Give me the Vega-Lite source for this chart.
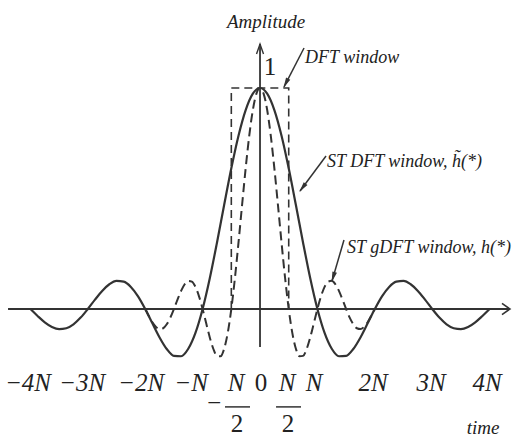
{
  "$schema": "https://vega.github.io/schema/vega-lite/v6.json",
  "width": 526,
  "height": 440,
  "autosize": {"type": "none"},
  "padding": 0,
  "background": "white",
  "config": {"view": {"stroke": null}},
  "datasets": {
    "sinc": [
      {"x": -4, "y": 0}, {"x": -3.875, "y": -0.0314}, {"x": -3.75, "y": -0.06}, {"x": -3.625, "y": -0.0811},
      {"x": -3.5, "y": -0.091}, {"x": -3.375, "y": -0.0871}, {"x": -3.25, "y": -0.0693}, {"x": -3.125, "y": -0.039},
      {"x": -3, "y": 0}, {"x": -2.875, "y": 0.0424}, {"x": -2.75, "y": 0.0819}, {"x": -2.625, "y": 0.112},
      {"x": -2.5, "y": 0.1273}, {"x": -2.375, "y": 0.1238}, {"x": -2.25, "y": 0.1}, {"x": -2.125, "y": 0.0573},
      {"x": -2, "y": 0}, {"x": -1.875, "y": -0.065}, {"x": -1.75, "y": -0.1286}, {"x": -1.625, "y": -0.181},
      {"x": -1.5, "y": -0.2122}, {"x": -1.375, "y": -0.2139}, {"x": -1.25, "y": -0.1801}, {"x": -1.125, "y": -0.1083},
      {"x": -1, "y": 0}, {"x": -0.875, "y": 0.1392}, {"x": -0.75, "y": 0.3001}, {"x": -0.625, "y": 0.4705},
      {"x": -0.5, "y": 0.6366}, {"x": -0.375, "y": 0.7842}, {"x": -0.25, "y": 0.9003}, {"x": -0.125, "y": 0.9745},
      {"x": 0, "y": 1},
      {"x": 0.125, "y": 0.9745}, {"x": 0.25, "y": 0.9003}, {"x": 0.375, "y": 0.7842}, {"x": 0.5, "y": 0.6366},
      {"x": 0.625, "y": 0.4705}, {"x": 0.75, "y": 0.3001}, {"x": 0.875, "y": 0.1392}, {"x": 1, "y": 0},
      {"x": 1.125, "y": -0.1083}, {"x": 1.25, "y": -0.1801}, {"x": 1.375, "y": -0.2139}, {"x": 1.5, "y": -0.2122},
      {"x": 1.625, "y": -0.181}, {"x": 1.75, "y": -0.1286}, {"x": 1.875, "y": -0.065}, {"x": 2, "y": 0},
      {"x": 2.125, "y": 0.0573}, {"x": 2.25, "y": 0.1}, {"x": 2.375, "y": 0.1238}, {"x": 2.5, "y": 0.1273},
      {"x": 2.625, "y": 0.112}, {"x": 2.75, "y": 0.0819}, {"x": 2.875, "y": 0.0424}, {"x": 3, "y": 0},
      {"x": 3.125, "y": -0.039}, {"x": 3.25, "y": -0.0693}, {"x": 3.375, "y": -0.0871}, {"x": 3.5, "y": -0.091},
      {"x": 3.625, "y": -0.0811}, {"x": 3.75, "y": -0.06}, {"x": 3.875, "y": -0.0314}, {"x": 4, "y": 0}
    ],
    "gsinc": [
      {"x": -2, "y": 0}, {"x": -1.9375, "y": -0.0314}, {"x": -1.875, "y": -0.06}, {"x": -1.8125, "y": -0.0811},
      {"x": -1.75, "y": -0.091}, {"x": -1.6875, "y": -0.0871}, {"x": -1.625, "y": -0.0693}, {"x": -1.5625, "y": -0.039},
      {"x": -1.5, "y": 0}, {"x": -1.4375, "y": 0.0424}, {"x": -1.375, "y": 0.0819}, {"x": -1.3125, "y": 0.112},
      {"x": -1.25, "y": 0.1273}, {"x": -1.1875, "y": 0.1238}, {"x": -1.125, "y": 0.1}, {"x": -1.0625, "y": 0.0573},
      {"x": -1, "y": 0}, {"x": -0.9375, "y": -0.065}, {"x": -0.875, "y": -0.1286}, {"x": -0.8125, "y": -0.181},
      {"x": -0.75, "y": -0.2122}, {"x": -0.6875, "y": -0.2139}, {"x": -0.625, "y": -0.1801}, {"x": -0.5625, "y": -0.1083},
      {"x": -0.5, "y": 0}, {"x": -0.4375, "y": 0.1392}, {"x": -0.375, "y": 0.3001}, {"x": -0.3125, "y": 0.4705},
      {"x": -0.25, "y": 0.6366}, {"x": -0.1875, "y": 0.7842}, {"x": -0.125, "y": 0.9003}, {"x": -0.0625, "y": 0.9745},
      {"x": 0, "y": 1},
      {"x": 0.0625, "y": 0.9745}, {"x": 0.125, "y": 0.9003}, {"x": 0.1875, "y": 0.7842}, {"x": 0.25, "y": 0.6366},
      {"x": 0.3125, "y": 0.4705}, {"x": 0.375, "y": 0.3001}, {"x": 0.4375, "y": 0.1392}, {"x": 0.5, "y": 0},
      {"x": 0.5625, "y": -0.1083}, {"x": 0.625, "y": -0.1801}, {"x": 0.6875, "y": -0.2139}, {"x": 0.75, "y": -0.2122},
      {"x": 0.8125, "y": -0.181}, {"x": 0.875, "y": -0.1286}, {"x": 0.9375, "y": -0.065}, {"x": 1, "y": 0},
      {"x": 1.0625, "y": 0.0573}, {"x": 1.125, "y": 0.1}, {"x": 1.1875, "y": 0.1238}, {"x": 1.25, "y": 0.1273},
      {"x": 1.3125, "y": 0.112}, {"x": 1.375, "y": 0.0819}, {"x": 1.4375, "y": 0.0424}, {"x": 1.5, "y": 0},
      {"x": 1.5625, "y": -0.039}, {"x": 1.625, "y": -0.0693}, {"x": 1.6875, "y": -0.0871}, {"x": 1.75, "y": -0.091},
      {"x": 1.8125, "y": -0.0811}, {"x": 1.875, "y": -0.06}, {"x": 1.9375, "y": -0.0314}, {"x": 2, "y": 0}
    ],
    "rect": [
      {"i": 0, "x": -0.5, "y": 0}, {"i": 1, "x": -0.5, "y": 1}, {"i": 2, "x": 0.5, "y": 1}, {"i": 3, "x": 0.5, "y": 0}
    ],
    "axes": [
      {"x": -4.39, "x2": 4.355, "y": 0, "y2": 0},
      {"x": 0, "x2": 0, "y": -0.172, "y2": 1.199}
    ],
    "ticks": [{"x": -4}, {"x": -3}, {"x": -2}, {"x": -1}, {"x": 1}, {"x": 2}, {"x": 3}, {"x": 4}],
    "bars": [
      {"x": -0.61, "x2": -0.174, "y": -0.443},
      {"x": 0.279, "x2": 0.714, "y": -0.443}
    ],
    "arrows": [
      {"x": 0.767, "y": 1.181, "x2": 0.418, "y2": 1.005},
      {"x": 1.15, "y": 0.692, "x2": 0.697, "y2": 0.534},
      {"x": 1.463, "y": 0.312, "x2": 1.254, "y2": 0.127}
    ],
    "ticklabels": [
      {"x": -4.042, "y": -0.335, "t": "−4N"},
      {"x": -3.101, "y": -0.335, "t": "−3N"},
      {"x": -2.073, "y": -0.335, "t": "−2N"},
      {"x": -1.202, "y": -0.335, "t": "−N"},
      {"x": -0.418, "y": -0.335, "t": "N"},
      {"x": 0.47, "y": -0.335, "t": "N"},
      {"x": 0.941, "y": -0.335, "t": "N"},
      {"x": 1.969, "y": -0.335, "t": "2N"},
      {"x": 2.979, "y": -0.335, "t": "3N"},
      {"x": 3.955, "y": -0.335, "t": "4N"},
      {"x": -0.801, "y": -0.425, "t": "−"}
    ],
    "digits": [
      {"x": 0.017, "y": -0.335, "t": "0"},
      {"x": -0.401, "y": -0.52, "t": "2"},
      {"x": 0.488, "y": -0.52, "t": "2"},
      {"x": 0.174, "y": 1.095, "t": "1"}
    ],
    "titles": [
      {"x": 0.105, "y": 1.299, "t": "Amplitude"},
      {"x": 3.885, "y": -0.538, "t": "time"}
    ],
    "notes": [
      {"x": 0.784, "y": 1.136, "t": "DFT window"},
      {"x": 1.167, "y": 0.665, "t": "ST DFT window, h̃(*)"},
      {"x": 1.516, "y": 0.276, "t": "ST gDFT window, h(*)"}
    ]
  },
  "encoding": {
    "x": {"field": "x", "type": "quantitative", "scale": {"domain": [-4.53, 4.634], "nice": false, "zero": false}, "axis": null},
    "y": {"field": "y", "type": "quantitative", "scale": {"domain": [-0.5928, 1.3982], "nice": false, "zero": false}, "axis": null}
  },
  "layer": [
    {
      "data": {"name": "axes"},
      "mark": {"type": "rule", "color": "#333333", "strokeWidth": 1.8},
      "encoding": {"x2": {"field": "x2"}, "y2": {"field": "y2"}}
    },
    {
      "data": {"name": "ticks"},
      "mark": {"type": "rule", "color": "#333333", "strokeWidth": 1.6},
      "encoding": {"y": {"datum": -0.037}, "y2": {"datum": 0.037}}
    },
    {
      "data": {"values": [{"x": 4.355, "y": 0}]},
      "mark": {"type": "point", "shape": "M-1,-0.7L0,0L-1,0.7", "size": 256, "filled": false, "color": "#333333", "strokeWidth": 1.6, "opacity": 1}
    },
    {
      "data": {"values": [{"x": 0, "y": 1.199}]},
      "mark": {"type": "point", "shape": "M-0.35,1L0,0L0.35,1", "size": 400, "filled": false, "color": "#333333", "strokeWidth": 1.4, "opacity": 1}
    },
    {
      "data": {"name": "rect"},
      "mark": {"type": "line", "color": "#333333", "strokeWidth": 1.6, "strokeDash": [8, 5]},
      "encoding": {"order": {"field": "i", "type": "quantitative"}}
    },
    {
      "data": {"name": "sinc"},
      "mark": {"type": "line", "color": "#333333", "strokeWidth": 2.2, "interpolate": "monotone"}
    },
    {
      "data": {"name": "gsinc"},
      "mark": {"type": "line", "color": "#333333", "strokeWidth": 2, "interpolate": "monotone", "strokeDash": [9, 5]}
    },
    {
      "data": {"name": "bars"},
      "mark": {"type": "rule", "color": "#333333", "strokeWidth": 1.5},
      "encoding": {"x2": {"field": "x2"}}
    },
    {
      "data": {"name": "arrows"},
      "mark": {"type": "rule", "color": "#333333", "strokeWidth": 1.5},
      "encoding": {"x2": {"field": "x2"}, "y2": {"field": "y2"}}
    },
    {
      "data": {"values": [{"x": 0.449, "y": 1.021}]},
      "mark": {"type": "point", "shape": "M0,-1L0.45,1L-0.45,1Z", "size": 110, "filled": true, "color": "#333333", "opacity": 1, "angle": 207}
    },
    {
      "data": {"values": [{"x": 0.739, "y": 0.548}]},
      "mark": {"type": "point", "shape": "M0,-1L0.45,1L-0.45,1Z", "size": 110, "filled": true, "color": "#333333", "opacity": 1, "angle": 217}
    },
    {
      "data": {"values": [{"x": 1.274, "y": 0.144}]},
      "mark": {"type": "point", "shape": "M0,-1L0.45,1L-0.45,1Z", "size": 110, "filled": true, "color": "#333333", "opacity": 1, "angle": 197}
    },
    {
      "data": {"name": "ticklabels"},
      "mark": {"type": "text", "font": "Liberation Serif", "fontStyle": "italic", "fontSize": 25, "align": "center", "baseline": "middle", "color": "#222222"},
      "encoding": {"text": {"field": "t"}}
    },
    {
      "data": {"name": "digits"},
      "mark": {"type": "text", "font": "Liberation Serif", "fontSize": 25, "align": "center", "baseline": "middle", "color": "#222222"},
      "encoding": {"text": {"field": "t"}}
    },
    {
      "data": {"name": "titles"},
      "mark": {"type": "text", "font": "Liberation Serif", "fontStyle": "italic", "fontSize": 19, "align": "center", "baseline": "middle", "color": "#222222"},
      "encoding": {"text": {"field": "t"}}
    },
    {
      "data": {"name": "notes"},
      "mark": {"type": "text", "font": "Liberation Serif", "fontStyle": "italic", "fontSize": 18, "align": "left", "baseline": "middle", "color": "#222222"},
      "encoding": {"text": {"field": "t"}}
    }
  ]
}
